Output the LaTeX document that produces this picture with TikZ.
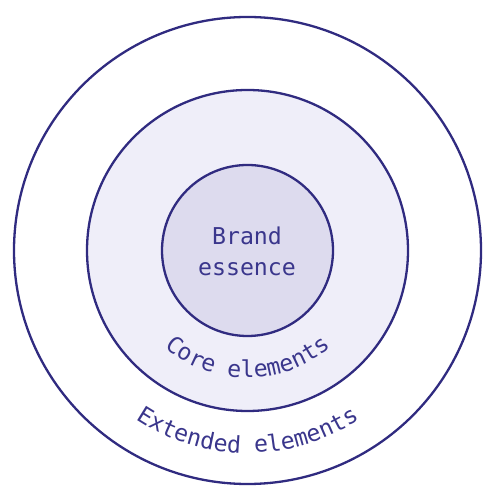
\documentclass[tikz,border=0pt]{standalone}
\usepackage{fontspec}
\setmonofont{DejaVu Sans Mono}
\usetikzlibrary{decorations.text}
\definecolor{ink}{HTML}{302B80}
\definecolor{txtink}{HTML}{3A368C}
\definecolor{midfill}{HTML}{EFEEF9}
\definecolor{innerfill}{HTML}{DDDBEE}
\newcommand\lblfont{\ttfamily\fontsize{23.2}{27}\selectfont}
\tikzset{
  ring/.style={circle, draw=ink, line width=2.3pt, inner sep=0pt},
  lbl/.style={font=\lblfont, text=txtink, inner sep=0pt, anchor=base},
  arclabel/.style={decorate, decoration={text along path, text={|\lblfont|#1}, text align=center, text color=txtink}}
}
\begin{document}
\begin{tikzpicture}[x=1pt,y=1pt]
\useasboundingbox (0,0) rectangle (496,497);
\coordinate (c) at (247.5,246.5);
\node[ring, fill=white, minimum size=467pt] (outer) at (c) {};
\node[ring, fill=midfill, minimum size=321pt] (core) at (c) {};
\node[ring, fill=innerfill, minimum size=171pt] (essence) at (c) {};
\node[lbl] (brand) at (247,252) {Brand};
\node[lbl] (essencetext) at (247,221.3) {essence};
\path[arclabel={Core elements}] ([shift={(180:127.5)}]c) arc[start angle=180, end angle=360, radius=127.5];
\path[arclabel={Extended elements}] ([shift={(180:202.5)}]c) arc[start angle=180, end angle=360, radius=202.5];
\end{tikzpicture}
\end{document}
